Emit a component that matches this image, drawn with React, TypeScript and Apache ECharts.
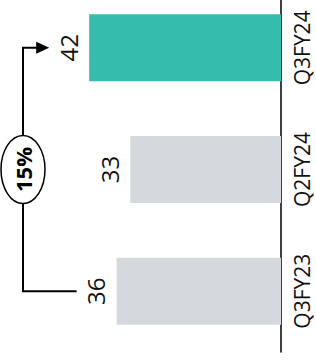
import React, { useEffect, useRef } from 'react';
import * as echarts from 'echarts';

const categories = ['Q3FY23', 'Q2FY24', 'Q3FY24'];
const values = [36, 33, 42];
const barColors = ['#D5D9DD', '#D5D9DD', '#35BCAC'];
const growthLabel = '15%';

export default function App() {
  const ref = useRef<HTMLDivElement>(null);
  useEffect(() => {
    document.body.style.margin = '0';
    const chart = echarts.init(ref.current!, null, { renderer: 'svg' });
    const font = '"Open Sans", sans-serif';
    chart.setOption({
      animation: false,
      grid: { left: 7, right: 35, top: -13, bottom: 8, containLabel: false, outerBoundsMode: 'none' },
      xAxis: { type: 'value', inverse: true, min: 0, max: 60, show: false },
      yAxis: {
        type: 'category',
        data: categories,
        position: 'right',
        axisLine: { onZero: false, lineStyle: { color: '#000', width: 1.5 } },
        axisTick: { show: false },
        axisLabel: {
          rotate: 90,
          align: 'center',
          verticalAlign: 'top',
          margin: 11,
          fontSize: 21,
          lineHeight: 20,
          color: '#111',
          fontFamily: font,
        },
      },
      series: [
        {
          type: 'bar',
          data: values.map((v, i) => ({ value: v, itemStyle: { color: barColors[i] } })),
          barWidth: 67,
          label: {
            show: true,
            position: 'left',
            distance: 9,
            rotate: 90,
            align: 'center',
            verticalAlign: 'bottom',
            fontSize: 24,
            color: '#111',
            fontFamily: font,
          },
        },
      ],
    });

    const p0 = chart.convertToPixel({ gridIndex: 0 }, [values[0], 0]) as number[];
    const p2 = chart.convertToPixel({ gridIndex: 0 }, [values[2], 2]) as number[];
    const bx = 23;
    const gap = 40;
    const mid = (p0[1] + p2[1]) / 2;
    const rx = 22;
    const ry = 34;
    const tipX = p2[0] - gap;
    const lineStyle = { stroke: '#000', lineWidth: 2, fill: null };
    chart.setOption({
      graphic: [
        {
          type: 'polyline',
          shape: { points: [[p0[0] - gap, p0[1]], [bx, p0[1]], [bx, mid + ry]] },
          style: lineStyle,
        },
        {
          type: 'polyline',
          shape: { points: [[bx, mid - ry], [bx, p2[1]], [tipX - 10, p2[1]]] },
          style: lineStyle,
        },
        {
          type: 'polygon',
          shape: { points: [[tipX, p2[1]], [tipX - 13, p2[1] - 6], [tipX - 13, p2[1] + 6]] },
          style: { fill: '#000' },
        },
        {
          type: 'ellipse',
          shape: { cx: bx, cy: mid, rx, ry },
          style: { fill: '#fff', stroke: '#000', lineWidth: 1.5 },
        },
        {
          type: 'text',
          x: bx,
          y: mid,
          rotation: Math.PI / 2,
          style: {
            text: growthLabel,
            font: 'bold 22px "Open Sans", sans-serif',
            align: 'center',
            verticalAlign: 'middle',
            fill: '#000',
          },
        },
      ],
    });

    return () => chart.dispose();
  }, []);
  return <div ref={ref} style={{ width: 316, height: 360 }} />;
}
